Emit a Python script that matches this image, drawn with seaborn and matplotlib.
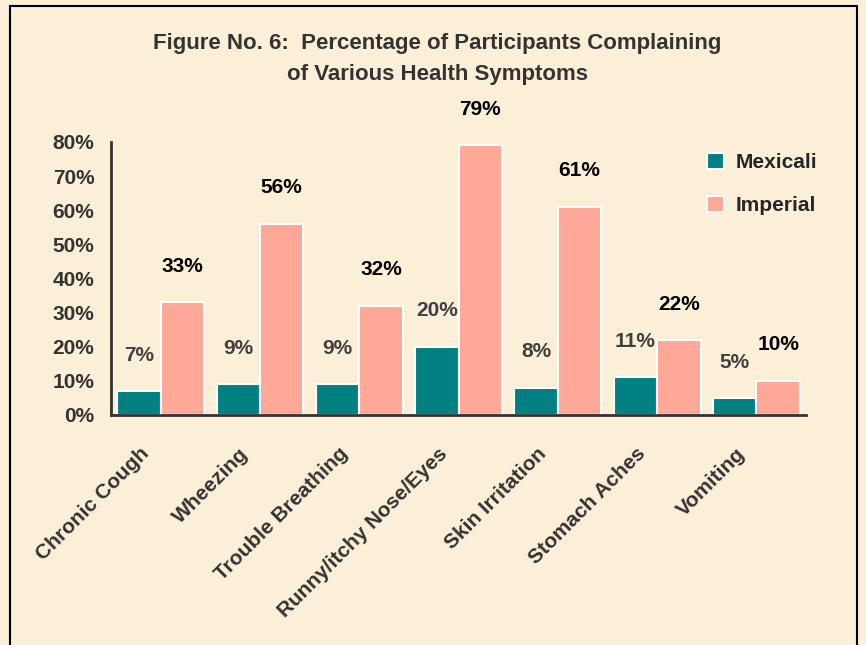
import pandas as pd
import matplotlib
matplotlib.use("Agg")
import matplotlib.pyplot as plt
from matplotlib.patches import Rectangle
from matplotlib.transforms import ScaledTranslation
import seaborn as sns

# ---------------- datos ----------------
symptoms = ["Chronic Cough", "Wheezing", "Trouble Breathing", "Runny/itchy Nose/Eyes",
            "Skin Irritation", "Stomach Aches", "Vomiting"]
mexicali = [7, 9, 9, 20, 8, 11, 5]
imperial = [33, 56, 32, 79, 61, 22, 10]
groups = ["Mexicali", "Imperial"]
yticks = [0, 10, 20, 30, 40, 50, 60, 70, 80]

df = pd.DataFrame({
    "Symptom": symptoms * 2,
    "Group": [groups[0]] * len(symptoms) + [groups[1]] * len(symptoms),
    "Pct": mexicali + imperial,
})

sns.set_style("white")
plt.rcParams["font.family"] = ["Liberation Sans", "DejaVu Sans"]

bg = "#FBEFD7"
colores = {"Mexicali": "#008080", "Imperial": "#FFA898"}
gris = "#333333"

fig = plt.figure(figsize=(8.66, 6.45), dpi=100, facecolor=bg)
ax = fig.add_axes([0.1282, 0.3566, 0.8025, 0.4233])
ax.set_facecolor(bg)

sns.barplot(data=df, x="Symptom", y="Pct", hue="Group", palette=colores, saturation=1,
            width=0.875, gap=0, edgecolor="white", linewidth=1.5,
            errorbar=None, ax=ax, legend=True)

# etiquetas de valores
for cont, col in zip(ax.containers, ["#404040", "black"]):
    labs = [f"{int(v)}%" for v in cont.datavalues]
    ax.bar_label(cont, labels=labs, padding=19, fontsize=15, fontweight="bold", color=col)

ax.set_xlim(-0.5, 6.5)
ax.set_ylim(0, 80)
ax.set_yticks(yticks)
ax.set_yticklabels([f"{v}%" for v in yticks], fontsize=15, fontweight="bold", color=gris)

# ticks del eje x en los límites de cada categoría
ax.set_xticks([i - 0.5 for i in range(len(symptoms) + 1)])
ax.set_xticklabels([])
ax.set_xticks(range(len(symptoms)), minor=True)
ax.set_xticklabels(symptoms, minor=True, rotation=45, ha="right", rotation_mode="anchor",
                   fontsize=15, fontweight="bold", color=gris)
ax.tick_params(axis="x", which="minor", length=0, pad=21)
ax.tick_params(axis="x", which="major", length=6, width=2, color=gris, direction="out")
ax.tick_params(axis="y", length=6, width=2, color=gris, direction="out", pad=6)
desplazar = ScaledTranslation(-0.21, 0, fig.dpi_scale_trans)
for lab in ax.get_xticklabels(minor=True):
    lab.set_transform(lab.get_transform() + desplazar)

ax.set_xlabel("")
ax.set_ylabel("")
for s in ["top", "right"]:
    ax.spines[s].set_visible(False)
for s in ["left", "bottom"]:
    ax.spines[s].set_color(gris)
    ax.spines[s].set_linewidth(2)

leg = ax.legend(loc="upper left", bbox_to_anchor=(0.831, 1.029), frameon=False,
                handlelength=0.8, handleheight=0.8, labelspacing=1.15, handletextpad=0.55,
                prop={"weight": "bold", "size": 15})
for h in leg.legend_handles:
    h.set_edgecolor("white")

fig.text(0.505, 0.933, "Figure No. 6:  Percentage of Participants Complaining",
         ha="center", va="center", fontsize=16, fontweight="bold", color=gris)
fig.text(0.505, 0.884, "of Various Health Symptoms",
         ha="center", va="center", fontsize=16, fontweight="bold", color=gris)

# marco
fig.patches.append(Rectangle((10 / 866, -0.1), 847 / 866, 1 - 6 / 645 + 0.1,
                             transform=fig.transFigure, fill=False,
                             edgecolor="black", linewidth=1.5))

plt.savefig("out.png", dpi=100, facecolor=bg)
